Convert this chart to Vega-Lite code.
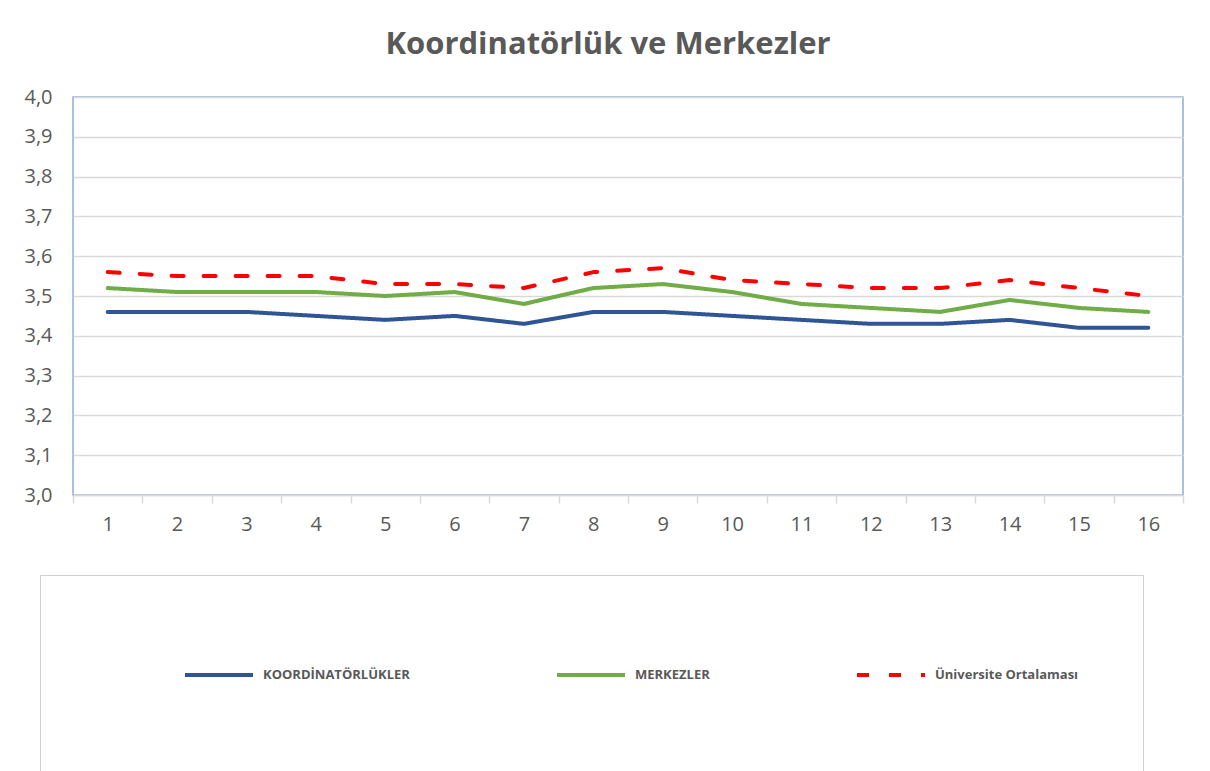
{
  "$schema": "https://vega.github.io/schema/vega-lite/v6.json",
  "width": 1110,
  "height": 398,
  "autosize": {"type": "none"},
  "padding": {"left": 73, "top": 97, "right": 27, "bottom": 276},
  "background": "white",
  "title": {
    "text": "Koordinatörlük ve Merkezler",
    "font": "Open Sans",
    "fontSize": 31,
    "fontWeight": "bold",
    "color": "#595959",
    "anchor": "middle",
    "dx": -20,
    "offset": 26
  },
  "data": {
    "values": [
      {"x": 1, "series": "KOORDİNATÖRLÜKLER", "v": 3.46},
      {"x": 2, "series": "KOORDİNATÖRLÜKLER", "v": 3.46},
      {"x": 3, "series": "KOORDİNATÖRLÜKLER", "v": 3.46},
      {"x": 4, "series": "KOORDİNATÖRLÜKLER", "v": 3.45},
      {"x": 5, "series": "KOORDİNATÖRLÜKLER", "v": 3.44},
      {"x": 6, "series": "KOORDİNATÖRLÜKLER", "v": 3.45},
      {"x": 7, "series": "KOORDİNATÖRLÜKLER", "v": 3.43},
      {"x": 8, "series": "KOORDİNATÖRLÜKLER", "v": 3.46},
      {"x": 9, "series": "KOORDİNATÖRLÜKLER", "v": 3.46},
      {"x": 10, "series": "KOORDİNATÖRLÜKLER", "v": 3.45},
      {"x": 11, "series": "KOORDİNATÖRLÜKLER", "v": 3.44},
      {"x": 12, "series": "KOORDİNATÖRLÜKLER", "v": 3.43},
      {"x": 13, "series": "KOORDİNATÖRLÜKLER", "v": 3.43},
      {"x": 14, "series": "KOORDİNATÖRLÜKLER", "v": 3.44},
      {"x": 15, "series": "KOORDİNATÖRLÜKLER", "v": 3.42},
      {"x": 16, "series": "KOORDİNATÖRLÜKLER", "v": 3.42},
      {"x": 1, "series": "MERKEZLER", "v": 3.52},
      {"x": 2, "series": "MERKEZLER", "v": 3.51},
      {"x": 3, "series": "MERKEZLER", "v": 3.51},
      {"x": 4, "series": "MERKEZLER", "v": 3.51},
      {"x": 5, "series": "MERKEZLER", "v": 3.50},
      {"x": 6, "series": "MERKEZLER", "v": 3.51},
      {"x": 7, "series": "MERKEZLER", "v": 3.48},
      {"x": 8, "series": "MERKEZLER", "v": 3.52},
      {"x": 9, "series": "MERKEZLER", "v": 3.53},
      {"x": 10, "series": "MERKEZLER", "v": 3.51},
      {"x": 11, "series": "MERKEZLER", "v": 3.48},
      {"x": 12, "series": "MERKEZLER", "v": 3.47},
      {"x": 13, "series": "MERKEZLER", "v": 3.46},
      {"x": 14, "series": "MERKEZLER", "v": 3.49},
      {"x": 15, "series": "MERKEZLER", "v": 3.47},
      {"x": 16, "series": "MERKEZLER", "v": 3.46},
      {"x": 1, "series": "Üniversite Ortalaması", "v": 3.56},
      {"x": 2, "series": "Üniversite Ortalaması", "v": 3.55},
      {"x": 3, "series": "Üniversite Ortalaması", "v": 3.55},
      {"x": 4, "series": "Üniversite Ortalaması", "v": 3.55},
      {"x": 5, "series": "Üniversite Ortalaması", "v": 3.53},
      {"x": 6, "series": "Üniversite Ortalaması", "v": 3.53},
      {"x": 7, "series": "Üniversite Ortalaması", "v": 3.52},
      {"x": 8, "series": "Üniversite Ortalaması", "v": 3.56},
      {"x": 9, "series": "Üniversite Ortalaması", "v": 3.57},
      {"x": 10, "series": "Üniversite Ortalaması", "v": 3.54},
      {"x": 11, "series": "Üniversite Ortalaması", "v": 3.53},
      {"x": 12, "series": "Üniversite Ortalaması", "v": 3.52},
      {"x": 13, "series": "Üniversite Ortalaması", "v": 3.52},
      {"x": 14, "series": "Üniversite Ortalaması", "v": 3.54},
      {"x": 15, "series": "Üniversite Ortalaması", "v": 3.52},
      {"x": 16, "series": "Üniversite Ortalaması", "v": 3.50}
    ]
  },
  "mark": {"type": "line", "strokeCap": "round", "strokeJoin": "round"},
  "encoding": {
    "x": {
      "field": "x",
      "type": "ordinal",
      "bandPosition": 0.5,
      "scale": {"type": "band", "paddingInner": 0, "paddingOuter": 0},
      "axis": {
        "title": null,
        "labelAngle": 0,
        "labelFont": "Open Sans",
        "labelFontSize": 20,
        "labelColor": "#595959",
        "labelPadding": 11,
        "tickBand": "extent",
        "tickSize": 8,
        "tickColor": "#d9d9d9",
        "tickWidth": 1.5,
        "domainColor": "#d9d9d9",
        "domainWidth": 1.5,
        "grid": false
      }
    },
    "y": {
      "field": "v",
      "type": "quantitative",
      "scale": {"domain": [3, 4], "nice": false, "zero": false},
      "axis": {
        "title": null,
        "values": [3.0, 3.1, 3.2, 3.3, 3.4, 3.5, 3.6, 3.7, 3.8, 3.9, 4.0],
        "labelExpr": "replace(format(datum.value, '.1f'), '.', ',')",
        "labelFont": "Open Sans",
        "labelFontSize": 20,
        "labelColor": "#595959",
        "labelPadding": 21,
        "ticks": false,
        "domain": false,
        "gridColor": "#d9d9d9",
        "gridWidth": 1.5
      }
    },
    "color": {
      "field": "series",
      "type": "nominal",
      "scale": {
        "domain": ["KOORDİNATÖRLÜKLER", "MERKEZLER", "Üniversite Ortalaması"],
        "range": ["#2F5597", "#70AD47", "#FF0000"]
      },
      "legend": {
        "orient": "none",
        "direction": "horizontal",
        "legendX": -33,
        "legendY": 478,
        "padding": 64,
        "title": " ",
        "titleOrient": "left",
        "titleAnchor": "start",
        "titleFontSize": 80,
        "titlePadding": 79,
        "strokeColor": "#d0d0d0",
        "symbolType": "stroke",
        "symbolSize": 4624,
        "symbolStrokeWidth": 4,
        "labelOffset": 8,
        "columnPadding": 139,
        "labelFont": "Open Sans",
        "labelFontSize": 13,
        "labelFontWeight": "bold",
        "labelColor": "#595959"
      }
    },
    "strokeDash": {
      "field": "series",
      "type": "nominal",
      "scale": {
        "domain": ["KOORDİNATÖRLÜKLER", "MERKEZLER", "Üniversite Ortalaması"],
        "range": [[1, 0], [1, 0], [12, 20]]
      }
    },
    "strokeWidth": {
      "field": "series",
      "type": "nominal",
      "scale": {
        "domain": ["KOORDİNATÖRLÜKLER", "MERKEZLER", "Üniversite Ortalaması"],
        "range": [4, 4, 5.5]
      },
      "legend": null
    }
  },
  "config": {
    "view": {"stroke": "#8FAADC", "strokeWidth": 1.5}
  }
}
